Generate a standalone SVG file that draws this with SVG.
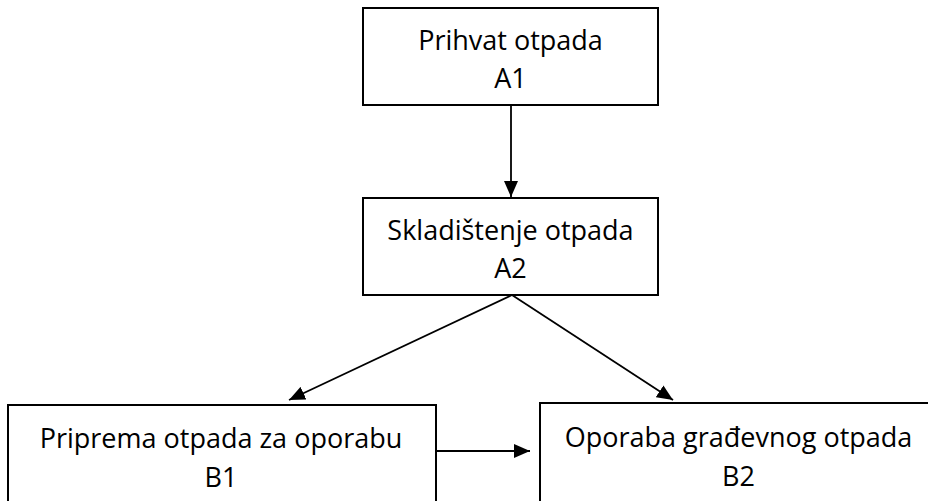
<svg xmlns="http://www.w3.org/2000/svg" width="928" height="501" viewBox="0 0 928 501">
<defs>
<style>
.box{fill:#fff;stroke:#000;stroke-width:2}
.lbl{font-family:"Open Sans","Noto Sans",sans-serif;font-size:27px;fill:#000;text-anchor:middle}
.edge{stroke:#000;stroke-width:1.8;fill:none}
</style>
<marker id="ah" markerUnits="userSpaceOnUse" markerWidth="16" markerHeight="14" refX="16" refY="7" orient="auto">
<path d="M0,0 L16,7 L0,14 Z" fill="#000"/>
</marker>
</defs>
<rect width="928" height="501" fill="#fff"/>
<g id="connectors">
<line class="edge" x1="511" y1="105" x2="511" y2="197" marker-end="url(#ah)"/>
<line class="edge" x1="512" y1="295" x2="289" y2="400" marker-end="url(#ah)"/>
<line class="edge" x1="512" y1="295" x2="673" y2="400" marker-end="url(#ah)"/>
<line class="edge" x1="436" y1="451" x2="530" y2="451" marker-end="url(#ah)"/>
</g>
<g id="A1">
<rect class="box" x="363" y="8" width="295" height="97"/>
<text class="lbl" x="510.5" y="50">Prihvat otpada</text>
<text class="lbl" x="510.5" y="88">A1</text>
</g>
<g id="A2">
<rect class="box" x="363" y="198" width="295" height="97"/>
<text class="lbl" x="510.5" y="240">Skladištenje otpada</text>
<text class="lbl" x="510.5" y="278">A2</text>
</g>
<g id="B1">
<rect class="box" x="8" y="405" width="428" height="110"/>
<text class="lbl" x="221" y="448">Priprema otpada za oporabu</text>
<text class="lbl" x="221" y="487">B1</text>
</g>
<g id="B2">
<rect class="box" x="540" y="403" width="397" height="112"/>
<text class="lbl" x="738.5" y="447">Oporaba građevnog otpada</text>
<text class="lbl" x="738.5" y="486">B2</text>
</g>
</svg>
